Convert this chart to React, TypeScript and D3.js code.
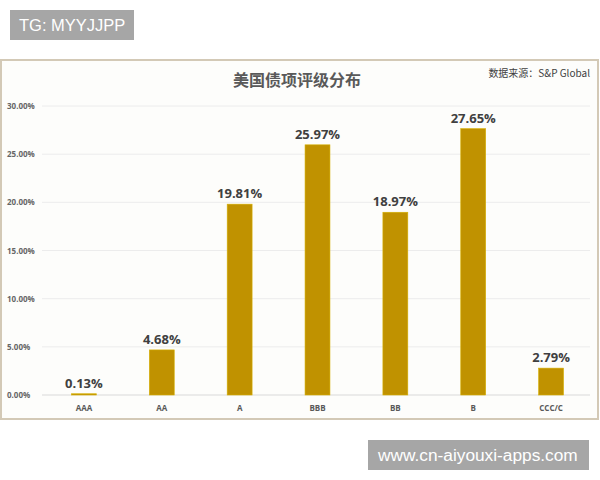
import React from "react";
import * as d3 from "d3";

const categories = ["AAA", "AA", "A", "BBB", "BB", "B", "CCC/C"];
const values = [0.13, 4.68, 19.81, 25.97, 18.97, 27.65, 2.79];
const yTicks = [0, 5, 10, 15, 20, 25, 30];
const title = "美国债项评级分布";
const source = "数据来源：S&P Global";

export default function App() {
  const W = 600, H = 480;
  const x = d3.scaleBand<string>().domain(categories).range([45, 590]).paddingInner(0.68).paddingOuter(0.34);
  const y = d3.scaleLinear().domain([0, 30]).range([395, 106]);
  const font = "'Open Sans', 'Noto Sans CJK SC', sans-serif";
  return (
    <svg width={W} height={H} style={{ position: "absolute", left: 0, top: 0 }}>
      <rect x={0} y={0} width={W} height={H} fill="#ffffff" />
      <rect x={1} y={60} width={597} height={359} fill="#fdfdfb" stroke="#d3c9b6" strokeWidth={2} />
      <text x={297} y={86} textAnchor="middle" fontFamily="'Noto Sans CJK SC', sans-serif" fontWeight="bold" fontSize={16} fill="#595959">{title}</text>
      <text x={590} y={77} textAnchor="end" fontFamily="'Noto Sans CJK SC', sans-serif" fontSize={10} fill="#404040">{source}</text>
      {yTicks.map((t) => (
        <g key={t}>
          <line x1={42} x2={590} y1={y(t)} y2={y(t)} stroke={t === 0 ? "#d9d9d9" : "#ececec"} strokeWidth={1} />
          <text x={7} y={y(t) + 3} fontFamily={font} fontWeight="bold" fontSize={8} fill="#666">{t.toFixed(2)}%</text>
        </g>
      ))}
      {categories.map((c, i) => (
        <g key={c}>
          <rect x={x(c)!} y={y(values[i])} width={x.bandwidth()} height={y(0) - y(values[i])} fill="#c09200" stroke="#d6b000" strokeWidth={0.6} />
          <text x={x(c)! + x.bandwidth() / 2} y={y(values[i]) - 6} textAnchor="middle" fontFamily={font} fontWeight="bold" fontSize={13} fill="#404040">{values[i].toFixed(2)}%</text>
          <text x={x(c)! + x.bandwidth() / 2} y={411} textAnchor="middle" fontFamily={font} fontWeight="bold" fontSize={8} fill="#595959">{c}</text>
        </g>
      ))}
      <rect x={10} y={10} width={124} height={30} fill="#a6a6a6" />
      <text x={19} y={31} fontFamily="'Liberation Sans', Arial, sans-serif" fontSize={16.5} fill="#ffffff">TG: MYYJJPP</text>
      <rect x={368} y={440} width={221} height={30} fill="#a6a6a6" />
      <text x={378} y={461} fontFamily="'Liberation Sans', Arial, sans-serif" fontSize={17.3} fill="#ffffff">www.cn-aiyouxi-apps.com</text>
    </svg>
  );
}
